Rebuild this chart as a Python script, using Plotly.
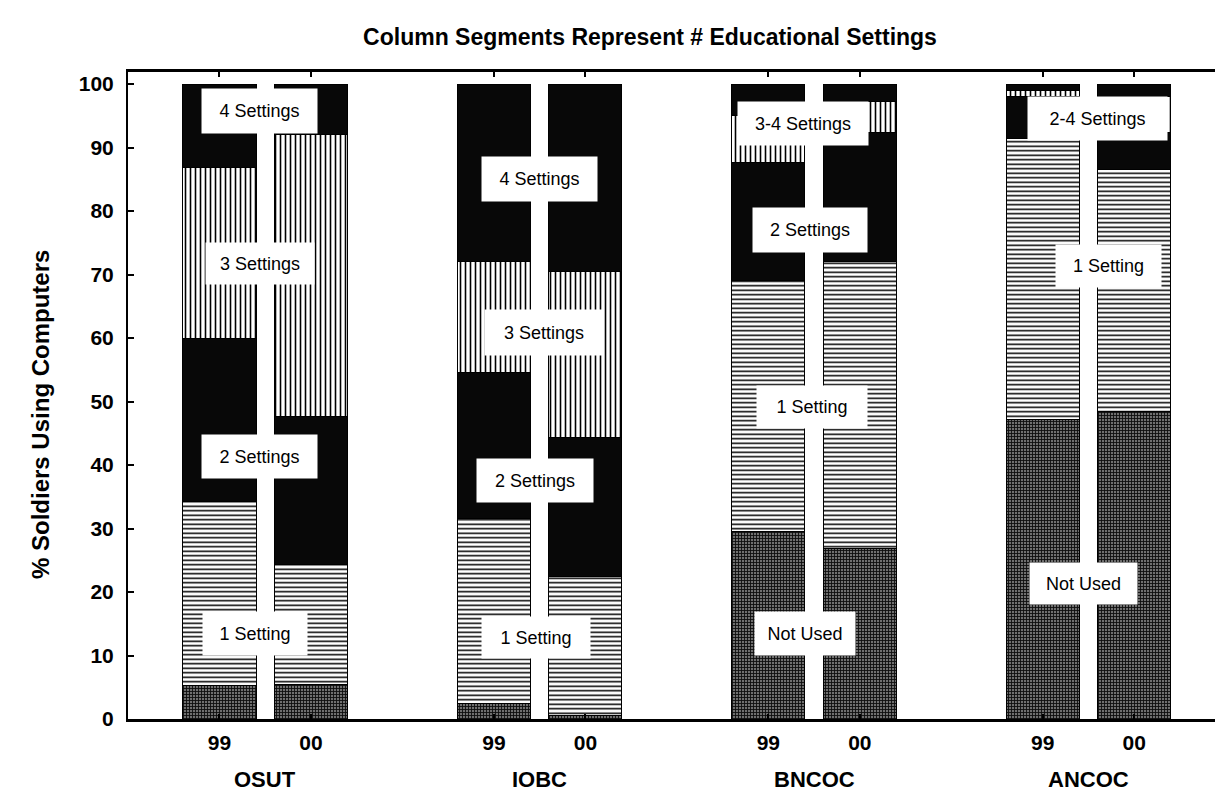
import plotly.graph_objects as go

# ---------------- data ----------------
groups = ["OSUT", "IOBC", "BNCOC", "ANCOC"]
years = ["99", "00"]

# order of bars: OSUT99, OSUT00, IOBC99, IOBC00, BNCOC99, BNCOC00, ANCOC99, ANCOC00
not_used = [5.2, 5.5, 2.5, 0.5, 29.6, 26.9, 47.1, 48.5]
one_setting = [29.0, 18.8, 29.1, 22.0, 39.4, 45.1, 44.4, 38.0]
two_settings = [25.8, 23.3, 22.9, 21.9, 18.6, 20.3, 6.5, 5.8]
three_settings = [26.8, 44.4, 17.5, 26.1, 7.5, 5.0, 1.0, 5.7]
four_settings = [13.2, 8.0, 28.0, 29.5, 4.9, 2.7, 1.0, 2.0]

y_ticks = [0, 10, 20, 30, 40, 50, 60, 70, 80, 90, 100]

title_text = "Column Segments Represent # Educational Settings"
y_title = "% Soldiers Using Computers"

# segment label boxes: (group index, text, x offset within group, y value, box w, box h)
segment_labels = [
    (0, "4 Settings", 0.44, 95.8, 115, 44),
    (0, "3 Settings", 0.44, 71.8, 108, 41),
    (0, "2 Settings", 0.44, 41.3, 115, 43),
    (0, "1 Setting", 0.39, 13.5, 104, 43),
    (1, "4 Settings", 0.50, 85.0, 115, 44),
    (1, "3 Settings", 0.55, 60.9, 118, 45),
    (1, "2 Settings", 0.45, 37.6, 116, 43),
    (1, "1 Setting", 0.46, 12.9, 108, 41),
    (2, "3-4 Settings", 0.38, 93.8, 130, 43),
    (2, "2 Settings", 0.45, 77.0, 114, 44),
    (2, "1 Setting", 0.48, 49.1, 110, 42),
    (2, "Not Used", 0.40, 13.5, 100, 43),
    (3, "2-4 Settings", 0.60, 94.6, 139, 43),
    (3, "1 Setting", 0.72, 71.3, 105, 42),
    (3, "Not Used", 0.44, 21.3, 107, 41),
]

# ---------------- layout helpers ----------------
x_pos = [gi * 3 + yi for gi in range(len(groups)) for yi in range(len(years))]
x_text = [years[yi] for gi in range(len(groups)) for yi in range(len(years))]

FONT = "Arial, 'Liberation Sans', sans-serif"

series = [
    ("Not Used", not_used, dict(shape="+", fgcolor="#0d0d0d", bgcolor="#6f6f6f", size=3, solidity=0.5)),
    ("1 Setting", one_setting, dict(shape="-", fgcolor="#000000", bgcolor="#ffffff", size=4.5, solidity=0.34)),
    ("2 Settings", two_settings, None),
    ("3 Settings", three_settings, dict(shape="|", fgcolor="#000000", bgcolor="#ffffff", size=5, solidity=0.32)),
    ("4 Settings", four_settings, None),
]

fig = go.Figure()
for name, vals, pat in series:
    marker = dict(line=dict(color="#000000", width=1))
    if pat is None:
        marker["color"] = "#080808"
    else:
        marker["color"] = pat["bgcolor"]
        marker["pattern"] = dict(fillmode="replace", **pat)
    fig.add_trace(go.Bar(x=x_pos, y=vals, name=name, width=0.8, marker=marker,
                         hoverinfo="name+y"))

# page body has an 8px margin: work in reference pixels, offset by 8
OFF = 8
FIG_W, FIG_H = 1223 - OFF, 794 - OFF
PLOT_L, PLOT_T, PLOT_B = 128 - OFF, 72 - OFF, 719 - OFF
plot_h = PLOT_B - PLOT_T
plot_w = FIG_W - PLOT_L

annotations = []
for gi, txt, dx, yv, w, h in segment_labels:
    annotations.append(dict(
        x=gi * 3 + dx, y=yv, xref="x", yref="y", text=txt, showarrow=False,
        bgcolor="#ffffff", width=w, height=h, borderpad=0,
        font=dict(family=FONT, size=18, color="#000000"),
        xanchor="center", yanchor="middle"))

for gi, g in enumerate(groups):
    annotations.append(dict(
        x=gi * 3 + 0.5, y=-((780 - OFF) - PLOT_B) / plot_h, xref="x", yref="paper",
        text=g, showarrow=False, xanchor="center", yanchor="middle",
        font=dict(family=FONT, size=22, color="#000000", weight="bold")))

annotations.append(dict(
    x=((40 - OFF) - PLOT_L) / plot_w, y=(PLOT_B - (415 - OFF)) / plot_h,
    xref="paper", yref="paper",
    text=y_title, showarrow=False, textangle=-90,
    xanchor="center", yanchor="middle",
    font=dict(family=FONT, size=24, color="#000000", weight="bold")))

fig.update_layout(
    width=FIG_W, height=FIG_H,
    margin=dict(l=PLOT_L, r=0, t=PLOT_T, b=FIG_H - PLOT_B, autoexpand=False),
    paper_bgcolor="#ffffff", plot_bgcolor="#ffffff",
    barmode="stack", showlegend=False,
    title=dict(text=title_text, x=(650 - OFF) / FIG_W, y=1 - (37 - OFF) / FIG_H,
               xref="container", yref="container", xanchor="center", yanchor="middle",
               font=dict(family=FONT, size=23, color="#000000", weight="bold")),
    annotations=annotations,
    xaxis=dict(range=[-1, 10.97], tickvals=x_pos, ticktext=x_text,
               ticks="inside", ticklen=5, tickwidth=2, tickcolor="#000000",
               showline=True, linewidth=3, linecolor="#000000", mirror="ticks",
               showgrid=False, zeroline=False, ticklabelstandoff=3,
               tickfont=dict(family=FONT, size=21, color="#000000", weight="bold")),
    yaxis=dict(range=[0, 101.9], tickvals=y_ticks, ticks="inside", ticklen=6,
               tickwidth=2, tickcolor="#000000",
               showline=True, linewidth=2, linecolor="#000000", mirror="ticks",
               showgrid=False, zeroline=False, ticklabelstandoff=8,
               tickfont=dict(family=FONT, size=21, color="#000000", weight="bold")),
)

fig.write_html("out.html")
